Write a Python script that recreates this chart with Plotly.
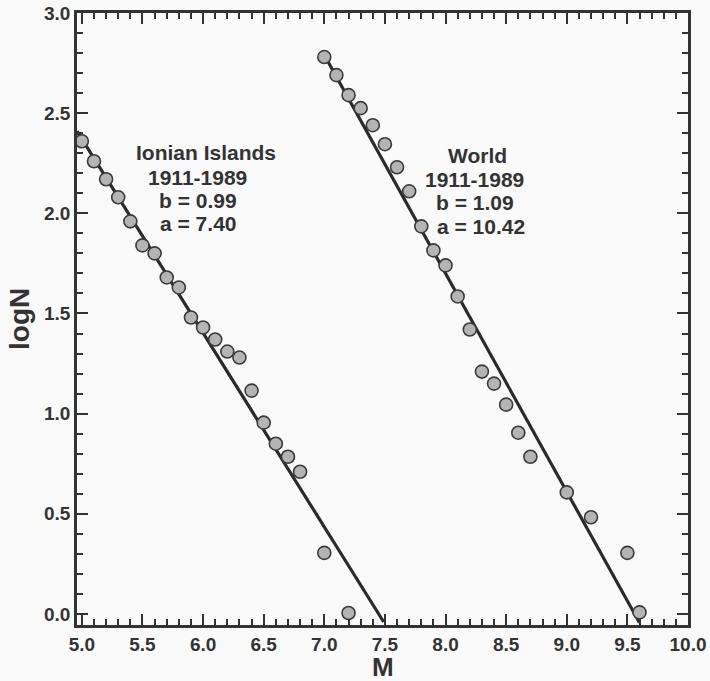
import plotly.graph_objects as go

# Ionian Islands data (magnitude M, cumulative logN)
ionian_M = [5.0, 5.1, 5.2, 5.3, 5.4, 5.5, 5.6, 5.7, 5.8, 5.9, 6.0, 6.1, 6.2, 6.3,
            6.4, 6.5, 6.6, 6.7, 6.8, 7.0, 7.2]
ionian_logN = [2.36, 2.26, 2.17, 2.08, 1.96, 1.84, 1.80, 1.68, 1.63, 1.48, 1.43, 1.37,
               1.31, 1.28, 1.115, 0.955, 0.85, 0.785, 0.71, 0.305, 0.005]

# World data
world_M = [7.0, 7.1, 7.2, 7.3, 7.4, 7.5, 7.6, 7.7, 7.8, 7.9, 8.0, 8.1, 8.2, 8.3,
           8.4, 8.5, 8.6, 8.7, 9.0, 9.2, 9.5, 9.6]
world_logN = [2.78, 2.69, 2.59, 2.525, 2.44, 2.345, 2.23, 2.11, 1.935, 1.815, 1.74,
              1.585, 1.42, 1.21, 1.15, 1.045, 0.905, 0.785, 0.607, 0.483, 0.305, 0.008]

# Fitted lines (endpoints)
ionian_fit_M = [4.96, 7.49]
ionian_fit_logN = [2.41, -0.04]
world_fit_M = [7.0, 9.6]
world_fit_logN = [2.79, -0.044]

# Text blocks: lines and their anchor positions (M, logN)
ionian_lines = ["Ionian Islands", "1911-1989", "b = 0.99", "a = 7.40"]
ionian_text_M = [6.02, 5.955, 5.955, 5.96]
ionian_text_logN = [2.305, 2.18, 2.065, 1.95]
world_lines = ["World", "1911-1989", "b = 1.09", "a = 10.42"]
world_text_M = [8.26, 8.235, 8.245, 8.29]
world_text_logN = [2.29, 2.17, 2.055, 1.935]

x_title = "M"
y_title = "logN"

INK = "#333333"
FONT = "Liberation Sans, Arial, Helvetica, sans-serif"

fig = go.Figure()

marker = dict(size=13, color="#b4b4b4", line=dict(color="#3a3a3a", width=1.6))

for fx, fy in [(ionian_fit_M, ionian_fit_logN), (world_fit_M, world_fit_logN)]:
    fig.add_trace(go.Scatter(x=fx, y=fy, mode="lines",
                             line=dict(color="#2a2a2a", width=3.2),
                             showlegend=False, hoverinfo="skip"))

fig.add_trace(go.Scatter(x=ionian_M, y=ionian_logN, mode="markers", marker=marker,
                         showlegend=False))
fig.add_trace(go.Scatter(x=world_M, y=world_logN, mode="markers", marker=marker,
                         showlegend=False))

for lines, xs, ys in [(ionian_lines, ionian_text_M, ionian_text_logN),
                      (world_lines, world_text_M, world_text_logN)]:
    for t, xv, yv in zip(lines, xs, ys):
        fig.add_annotation(x=xv, y=yv, text=t, showarrow=False,
                           xanchor="center", yanchor="middle",
                           font=dict(family=FONT, size=21, color=INK, weight="bold"))

# axis titles
fig.add_annotation(xref="paper", yref="paper", x=0.5, y=-0.0686, text=x_title,
                   showarrow=False, xanchor="center", yanchor="middle", borderpad=0,
                   font=dict(family=FONT, size=26, color=INK, weight="bold"))
fig.add_annotation(xref="paper", yref="paper", x=-0.095, y=0.5, text=y_title,
                   showarrow=False, xanchor="center", yanchor="middle", textangle=-90,
                   font=dict(family=FONT, size=28, color=INK, weight="bold"))

axis_common = dict(
    showgrid=False, zeroline=False, automargin=False,
    showline=True, linecolor=INK, linewidth=2.5, mirror="ticks",
    ticks="inside", ticklen=11, tickwidth=2, tickcolor=INK,
    dtick=0.5, tickformat=".1f",
    minor=dict(ticks="inside", ticklen=6, tickwidth=1.8, tickcolor=INK, dtick=0.1,
               showgrid=False),
    tickfont=dict(family=FONT, size=19, color=INK, weight="bold"),
)

fig.update_xaxes(range=[4.96, 10.0], tick0=5.0, **axis_common)
fig.update_yaxes(range=[-0.055, 3.0], tick0=0.0, **axis_common)

fig.update_layout(
    width=710, height=681,
    margin=dict(l=77, r=22, t=13, b=56),
    paper_bgcolor="#fafafa", plot_bgcolor="#fafafa",
    font=dict(family=FONT, color=INK),
)

fig.write_html("out.html")
